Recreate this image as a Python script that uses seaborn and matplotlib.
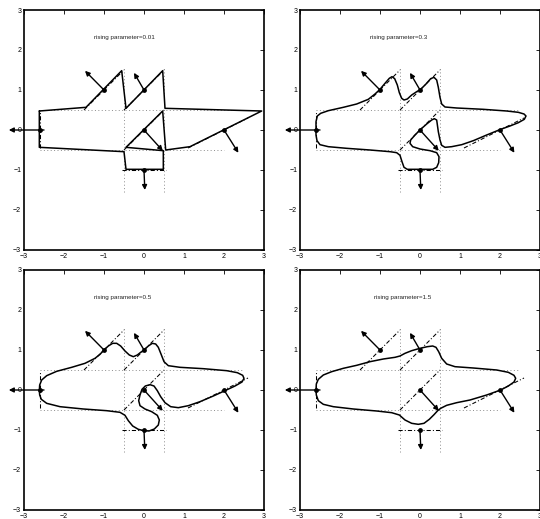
import matplotlib
matplotlib.use("Agg")
import matplotlib.pyplot as plt
import seaborn as sns
import pandas as pd

# rising parameter of each panel (row-major order)
rising = ["0.01", "0.3", "0.5", "1.5"]

# closed contours, one per rising parameter
curve_x_001 = [-2.617, -1.45, -0.558, -0.45, 0.467, 0.525, 2.942, 1.15, 0.542, 0.467,
               -0.45, 0.483, 0.483, -0.45, -0.5, -2.617, -2.617]
curve_y_001 = [0.475, 0.567, 1.483, 0.542, 1.483, 0.542, 0.475, -0.417, -0.5, 0.475,
               -0.433, -0.517, -0.983, -0.983, -0.542, -0.433, 0.475]

curve_x_03 = [-2.6, -2.6, -2.567, -2.483, -2.292, -1.917, -1.583, -1.292, -1.125, -1.0,
              -0.875, -0.767, -0.7, -0.633, -0.567, -0.517, -0.458, -0.4, -0.317, -0.208,
              -0.083, 0.017, 0.15, 0.267, 0.35, 0.417, 0.458, 0.5, 0.542, 0.625,
              0.917, 1.583, 2.167, 2.458, 2.6, 2.65, 2.608, 2.458, 2.25, 2.017,
              1.667, 1.333, 1.042, 0.792, 0.625, 0.542, 0.5, 0.458, 0.417, 0.358,
              0.292, 0.167, 0.017, -0.125, -0.233, -0.25, -0.183, 0.0, 0.25, 0.417,
              0.475, 0.467, 0.417, 0.317, 0.017, -0.317, -0.4, -0.45, -0.5, -0.583,
              -0.75, -1.25, -1.833, -2.292, -2.5, -2.575, -2.6, -2.6]
curve_y_03 = [0.0, 0.208, 0.35, 0.417, 0.483, 0.567, 0.65, 0.767, 0.9, 1.017,
              1.167, 1.292, 1.333, 1.283, 1.125, 0.933, 0.792, 0.75, 0.775, 0.875,
              0.958, 1.017, 1.15, 1.283, 1.317, 1.25, 1.067, 0.817, 0.65, 0.575,
              0.55, 0.517, 0.475, 0.442, 0.4, 0.35, 0.267, 0.183, 0.1, 0.017,
              -0.125, -0.267, -0.367, -0.417, -0.433, -0.383, -0.25, -0.042, 0.25, 0.283,
              0.25, 0.15, 0.017, -0.125, -0.25, -0.333, -0.417, -0.475, -0.517, -0.567,
              -0.667, -0.817, -0.933, -0.983, -0.983, -0.983, -0.933, -0.792, -0.633, -0.567,
              -0.542, -0.5, -0.458, -0.417, -0.367, -0.267, -0.125, 0.0]

curve_x_05 = [-2.617, -2.608, -2.558, -2.433, -2.183, -1.808, -1.475, -1.225, -1.1, -1.0,
              -0.892, -0.783, -0.683, -0.583, -0.475, -0.367, -0.267, -0.167, -0.083, 0.0,
              0.108, 0.208, 0.292, 0.358, 0.425, 0.5, 0.608, 0.9, 1.483, 2.067,
              2.333, 2.467, 2.5, 2.45, 2.275, 2.025, 1.733, 1.4, 1.108, 0.858,
              0.667, 0.525, 0.417, 0.333, 0.25, 0.15, 0.033, -0.05, -0.1, -0.133,
              -0.1, 0.025, 0.192, 0.333, 0.383, 0.358, 0.258, 0.125, 0.0, -0.142,
              -0.283, -0.392, -0.475, -0.6, -0.933, -1.517, -2.1, -2.433, -2.567, -2.608,
              -2.617]
curve_y_05 = [-0.017, 0.125, 0.25, 0.358, 0.467, 0.567, 0.667, 0.792, 0.892, 1.0,
              1.1, 1.167, 1.167, 1.1, 0.975, 0.875, 0.833, 0.875, 0.942, 1.0,
              1.1, 1.167, 1.15, 1.067, 0.9, 0.708, 0.608, 0.567, 0.533, 0.483,
              0.433, 0.367, 0.292, 0.2, 0.1, -0.017, -0.15, -0.292, -0.392, -0.442,
              -0.417, -0.317, -0.167, -0.017, 0.1, 0.133, 0.1, 0.017, -0.125, -0.267,
              -0.392, -0.475, -0.542, -0.633, -0.75, -0.875, -0.975, -1.025, -1.017, -0.983,
              -0.9, -0.767, -0.633, -0.558, -0.517, -0.475, -0.417, -0.333, -0.233, -0.125,
              -0.017]

curve_x_15 = [-2.6, -2.592, -2.542, -2.417, -2.208, -1.917, -1.583, -1.25, -0.917, -0.625,
              -0.5, -0.375, -0.208, 0.0, 0.183, 0.317, 0.4, 0.467, 0.542, 0.667,
              0.875, 1.333, 1.917, 2.208, 2.35, 2.392, 2.35, 2.208, 2.017, 1.667,
              1.25, 0.917, 0.667, 0.517, 0.442, 0.35, 0.233, 0.1, -0.042, -0.208,
              -0.375, -0.517, -0.708, -1.083, -1.667, -2.167, -2.417, -2.542, -2.592, -2.6]
curve_y_15 = [0.0, 0.15, 0.267, 0.375, 0.458, 0.542, 0.617, 0.708, 0.775, 0.817,
              0.85, 0.917, 0.983, 1.042, 1.083, 1.1, 1.067, 0.958, 0.792, 0.65,
              0.583, 0.55, 0.5, 0.442, 0.367, 0.292, 0.2, 0.1, 0.0, -0.125,
              -0.25, -0.317, -0.383, -0.458, -0.517, -0.617, -0.733, -0.833, -0.858, -0.833,
              -0.75, -0.625, -0.567, -0.525, -0.475, -0.417, -0.358, -0.267, -0.125, 0.0]

curves_x = [curve_x_001, curve_x_03, curve_x_05, curve_x_15]
curves_y = [curve_y_001, curve_y_03, curve_y_05, curve_y_15]

# sample points on the template and their outward normals
point_x = [-2.6, -1.0, 0.0, 0.0, 2.0, 0.0]
point_y = [0.0, 1.0, 1.0, 0.0, 0.0, -1.0]
normal_x0 = [-2.5, -1.0, 0.0, 0.0, 2.0, 0.0]
normal_y0 = [0.0, 1.0, 1.0, 0.0, 0.0, -1.0]
normal_x1 = [-3.38, -1.475, -0.25, 0.47, 2.36, 0.02]
normal_y1 = [0.0, 1.48, 1.43, -0.52, -0.57, -1.5]

# tangent segments through the sample points
tangent_x0 = [-2.6, -1.5, -0.5, -0.5, 1.1, -0.55]
tangent_y0 = [-0.45, 0.5, 0.5, -0.5, -0.45, -1.0]
tangent_x1 = [-2.6, -0.5, 0.5, 0.5, 2.6, 0.55]
tangent_y1 = [0.45, 1.5, 1.5, 0.5, 0.3, -1.0]

# dotted guide lines of the template
guide_x0 = [-2.6, -2.6, -0.5, 0.5]
guide_y0 = [0.5, -0.5, -1.55, -1.55]
guide_x1 = [2.5, 2.0, -0.5, 0.5]
guide_y1 = [0.5, -0.5, 1.55, 1.55]

ticks = [-3, -2, -1, 0, 1, 2, 3]
label_x = [-1.25, -1.25, -1.25, -1.15]
label_y = 2.32

sns.set_theme(style="white")
plt.rcParams["font.family"] = ["Liberation Sans", "DejaVu Sans"]

fig = plt.figure(figsize=(5.4, 5.19), dpi=100)
W, H = 540.0, 519.0
boxes = [(24, 10), (300, 10), (24, 270), (300, 270)]

for k, (px, py) in enumerate(boxes):
    ax = fig.add_axes([px / W, 1 - (py + 240) / H, 240 / W, 240 / H])
    ax.set_xlim(-3, 3)
    ax.set_ylim(-3, 3)

    for gx0, gy0, gx1, gy1 in zip(guide_x0, guide_y0, guide_x1, guide_y1):
        ax.plot([gx0, gx1], [gy0, gy1], color="0.55", lw=0.7,
                linestyle=(0, (1, 2.5)), zorder=1)

    for tx0, ty0, tx1, ty1 in zip(tangent_x0, tangent_y0, tangent_x1, tangent_y1):
        ax.plot([tx0, tx1], [ty0, ty1], color="black", lw=0.75,
                linestyle=(0, (4, 2, 1, 2)), zorder=2)

    df = pd.DataFrame({"x": curves_x[k], "y": curves_y[k]})
    sns.lineplot(data=df, x="x", y="y", sort=False, estimator=None,
                 color="black", lw=1.1, ax=ax, zorder=3)

    for nx0, ny0, nx1, ny1 in zip(normal_x0, normal_y0, normal_x1, normal_y1):
        ax.annotate("", xy=(nx1, ny1), xytext=(nx0, ny0),
                    arrowprops=dict(arrowstyle="-|>", color="black", lw=1.0,
                                    mutation_scale=7, shrinkA=0, shrinkB=0),
                    annotation_clip=False, zorder=4)

    sns.scatterplot(x=point_x, y=point_y, color="black", s=12, linewidth=0,
                    ax=ax, zorder=5)

    ax.text(label_x[k], label_y, f"rising parameter={rising[k]}",
            fontsize=4.5, ha="left", va="center", color="#222222")

    ax.set_xticks(ticks)
    ax.set_yticks(ticks)
    ax.set_xticklabels([f"{t}".replace("-", "\u2212") for t in ticks])
    ax.set_yticklabels([f"{t}".replace("-", "\u2212") for t in ticks])
    ax.tick_params(direction="in", length=3, width=0.6, top=True, right=True,
                   labelsize=5, pad=2, colors="black")
    ax.set_xlabel("")
    ax.set_ylabel("")
    for sp in ax.spines.values():
        sp.set_visible(True)
        sp.set_color("black")
        sp.set_linewidth(1.2)

fig.savefig("out.png", dpi=100)
